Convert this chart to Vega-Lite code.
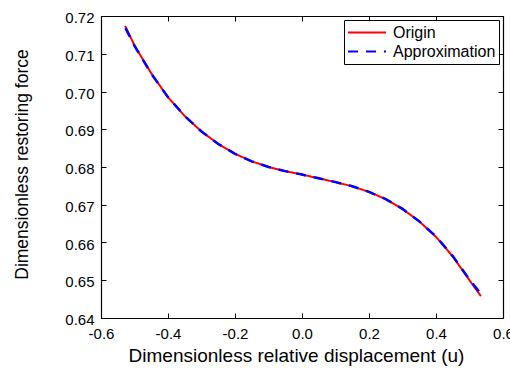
{
  "$schema": "https://vega.github.io/schema/vega-lite/v6.json",
  "width": 402,
  "height": 302,
  "autosize": {"type": "none"},
  "padding": {"left": 101, "top": 16, "right": 7, "bottom": 60},
  "background": "white",
  "config": {
    "view": {"stroke": null},
    "font": "Liberation Sans",
    "axis": {
      "grid": false,
      "domainColor": "black",
      "domainWidth": 1.2,
      "tickColor": "black",
      "tickWidth": 1,
      "tickSize": -5,
      "labelColor": "black",
      "titleColor": "black",
      "labelFont": "Liberation Sans",
      "titleFont": "Liberation Sans",
      "titleFontWeight": "normal",
      "labelFontSize": 15
    },
    "legend": {
      "labelFont": "Liberation Sans"
    }
  },
  "datasets": {
    "origin": [
      {"u": -0.528, "f": 0.7174, "series": "Origin"},
      {"u": -0.50, "f": 0.7122, "series": "Origin"},
      {"u": -0.45, "f": 0.7048, "series": "Origin"},
      {"u": -0.40, "f": 0.6985, "series": "Origin"},
      {"u": -0.35, "f": 0.6935, "series": "Origin"},
      {"u": -0.30, "f": 0.6894, "series": "Origin"},
      {"u": -0.25, "f": 0.6861, "series": "Origin"},
      {"u": -0.20, "f": 0.6835, "series": "Origin"},
      {"u": -0.15, "f": 0.6815, "series": "Origin"},
      {"u": -0.10, "f": 0.6800, "series": "Origin"},
      {"u": -0.05, "f": 0.6789, "series": "Origin"},
      {"u": 0.00, "f": 0.6780, "series": "Origin"},
      {"u": 0.05, "f": 0.6770, "series": "Origin"},
      {"u": 0.10, "f": 0.6760, "series": "Origin"},
      {"u": 0.15, "f": 0.6749, "series": "Origin"},
      {"u": 0.20, "f": 0.6734, "series": "Origin"},
      {"u": 0.25, "f": 0.6715, "series": "Origin"},
      {"u": 0.30, "f": 0.6689, "series": "Origin"},
      {"u": 0.35, "f": 0.6656, "series": "Origin"},
      {"u": 0.40, "f": 0.6615, "series": "Origin"},
      {"u": 0.45, "f": 0.6563, "series": "Origin"},
      {"u": 0.50, "f": 0.6500, "series": "Origin"},
      {"u": 0.534, "f": 0.6458, "series": "Origin"}
    ],
    "approx": [
      {"u": -0.527, "f": 0.7168, "series": "Approximation"},
      {"u": -0.50, "f": 0.7121, "series": "Approximation"},
      {"u": -0.45, "f": 0.7047, "series": "Approximation"},
      {"u": -0.40, "f": 0.6985, "series": "Approximation"},
      {"u": -0.35, "f": 0.6935, "series": "Approximation"},
      {"u": -0.30, "f": 0.6894, "series": "Approximation"},
      {"u": -0.25, "f": 0.6861, "series": "Approximation"},
      {"u": -0.20, "f": 0.6835, "series": "Approximation"},
      {"u": -0.15, "f": 0.6815, "series": "Approximation"},
      {"u": -0.10, "f": 0.6800, "series": "Approximation"},
      {"u": -0.05, "f": 0.6789, "series": "Approximation"},
      {"u": 0.00, "f": 0.6780, "series": "Approximation"},
      {"u": 0.05, "f": 0.6770, "series": "Approximation"},
      {"u": 0.10, "f": 0.6760, "series": "Approximation"},
      {"u": 0.15, "f": 0.6749, "series": "Approximation"},
      {"u": 0.20, "f": 0.6734, "series": "Approximation"},
      {"u": 0.25, "f": 0.6715, "series": "Approximation"},
      {"u": 0.30, "f": 0.6689, "series": "Approximation"},
      {"u": 0.35, "f": 0.6656, "series": "Approximation"},
      {"u": 0.40, "f": 0.6616, "series": "Approximation"},
      {"u": 0.45, "f": 0.6564, "series": "Approximation"},
      {"u": 0.50, "f": 0.6502, "series": "Approximation"},
      {"u": 0.535, "f": 0.6463, "series": "Approximation"}
    ]
  },
  "layer": [
    {
      "data": {"name": "origin"},
      "mark": {"type": "line", "strokeWidth": 2, "clip": true},
      "encoding": {
        "x": {
          "field": "u", "type": "quantitative",
          "scale": {"domain": [-0.6, 0.6], "nice": false, "zero": false},
          "axis": {
            "orient": "bottom",
            "values": [-0.6, -0.4, -0.2, 0, 0.2, 0.4, 0.6],
            "labelExpr": "replace(format(datum.value, '.1f'), '\u2212', '-')",
            "labelPadding": 13,
            "labelFlush": false,
            "title": "Dimensionless relative displacement (u)",
            "titleFontSize": 19,
            "titleBaseline": "alphabetic",
            "titleAnchor": "middle",
            "titleX": 195,
            "titleY": 43
          }
        },
        "y": {
          "field": "f", "type": "quantitative",
          "scale": {"domain": [0.64, 0.72], "nice": false, "zero": false},
          "axis": {
            "orient": "left",
            "values": [0.64, 0.65, 0.66, 0.67, 0.68, 0.69, 0.70, 0.71, 0.72],
            "format": ".2f",
            "labelPadding": 12,
            "labelOffset": 1.5,
            "labelFlush": false,
            "title": "Dimensionless restoring force",
            "titleFontSize": 17.5,
            "titleAngle": 270,
            "titleBaseline": "alphabetic",
            "titleAlign": "center",
            "titleX": -74,
            "titleY": 148
          }
        },
        "color": {
          "field": "series", "type": "nominal",
          "scale": {"domain": ["Origin", "Approximation"], "range": ["#ff0000", "#0000ff"]},
          "legend": {
            "title": null,
            "orient": "none",
            "legendX": 243,
            "legendY": 4,
            "fillColor": "white",
            "strokeColor": "black",
            "padding": 3,
            "symbolType": "stroke",
            "symbolSize": 1444,
            "symbolStrokeWidth": 2,
            "labelFontSize": 16,
            "labelOffset": 6,
            "clipHeight": 19,
            "rowPadding": 0
          }
        },
        "strokeDash": {
          "field": "series", "type": "nominal",
          "scale": {"domain": ["Origin", "Approximation"], "range": [[1, 0], [10, 8]]},
          "legend": {
            "title": null,
            "orient": "none",
            "legendX": 243,
            "legendY": 4,
            "fillColor": "white",
            "strokeColor": "black",
            "padding": 3,
            "symbolType": "stroke",
            "symbolSize": 1444,
            "symbolStrokeWidth": 2,
            "labelFontSize": 16,
            "labelOffset": 6,
            "clipHeight": 19,
            "rowPadding": 0
          }
        }
      }
    },
    {
      "data": {"name": "approx"},
      "mark": {"type": "line", "strokeWidth": 2.5, "clip": true},
      "encoding": {
        "x": {
          "field": "u", "type": "quantitative",
          "axis": {
            "orient": "top",
            "values": [-0.6, -0.4, -0.2, 0, 0.2, 0.4, 0.6],
            "labels": false,
            "title": null
          }
        },
        "y": {
          "field": "f", "type": "quantitative",
          "axis": {
            "orient": "right",
            "values": [0.64, 0.65, 0.66, 0.67, 0.68, 0.69, 0.70, 0.71, 0.72],
            "labels": false,
            "title": null
          }
        },
        "color": {"field": "series", "type": "nominal"},
        "strokeDash": {"field": "series", "type": "nominal"}
      }
    }
  ]
}
